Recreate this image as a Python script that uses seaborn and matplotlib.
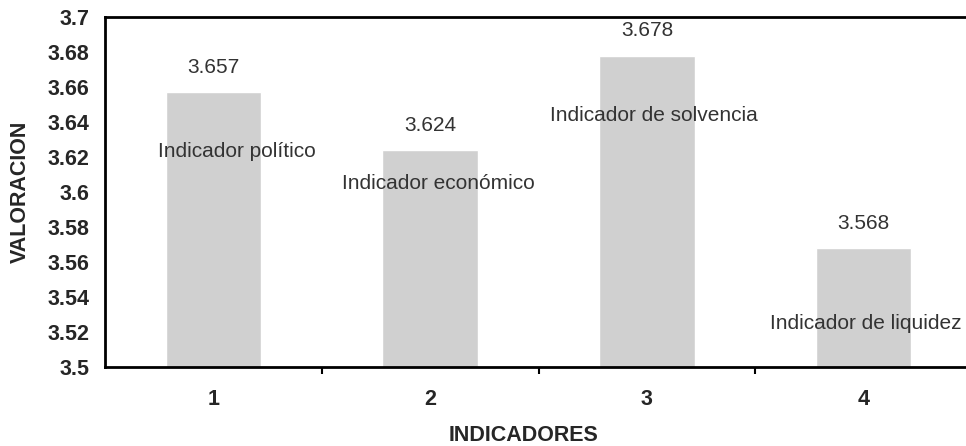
import numpy as np
import pandas as pd
import seaborn as sns
import matplotlib.pyplot as plt
from matplotlib.ticker import FixedLocator

# datos
indicadores = ['1', '2', '3', '4']
valores = [3.657, 3.624, 3.678, 3.568]
nombres = ['Indicador político', 'Indicador económico',
           'Indicador de solvencia', 'Indicador de liquidez']
# posicion de las etiquetas de nombre (offset en x, valor y)
nombre_dx = [0.11, 0.04, 0.03, 0.01]
nombre_y = [3.623, 3.605, 3.644, 3.525]

sns.set_style('white')
plt.rcParams['font.family'] = ['Liberation Sans', 'DejaVu Sans']

df = pd.DataFrame({'INDICADORES': indicadores, 'VALORACION': valores})

fig = plt.figure(figsize=(9.66, 4.46), dpi=100)
ax = fig.add_axes([105 / 966, 79 / 446, 867 / 966, 350 / 446])

sns.barplot(data=df, x='INDICADORES', y='VALORACION', color='#d0d0d0',
            saturation=1, width=0.44, ax=ax)

ax.set_ylim(3.5, 3.7)
ax.set_xlim(-0.5, 3.5)
ticks_y = np.round(np.arange(3.5, 3.7001, 0.02), 2)
ax.set_yticks(ticks_y)
ax.set_yticklabels([('%.2f' % v).rstrip('0').rstrip('.') for v in ticks_y])

for s in ['left', 'bottom', 'top']:
    ax.spines[s].set_color('black')
    ax.spines[s].set_linewidth(2)
ax.spines['right'].set_visible(False)

ax.tick_params(axis='y', which='major', direction='out', length=6, width=1.5,
               color='black', pad=5, labelsize=15.5)
ax.tick_params(axis='x', which='major', length=0, pad=16, labelsize=15.5)
ax.xaxis.set_minor_locator(FixedLocator([0.5, 1.5, 2.5]))
ax.tick_params(axis='x', which='minor', direction='out', length=5, width=1.5,
               color='black', bottom=True)
for lab in ax.get_xticklabels() + ax.get_yticklabels():
    lab.set_fontweight('bold')

ax.set_xlabel('INDICADORES', fontsize=15.5, fontweight='bold')
ax.set_ylabel('VALORACION', fontsize=15.5, fontweight='bold')
ax.xaxis.set_label_coords(0.483, -0.165)
ax.yaxis.set_label_coords(-0.086, 0.5)

for i, v in enumerate(valores):
    ax.annotate('%.3f' % v, (i, v), xytext=(0, 25), textcoords='offset pixels',
                ha='center', va='center', fontsize=15, color='#333333')
    ax.text(i + nombre_dx[i], nombre_y[i], nombres[i], ha='center', va='center',
            fontsize=15, color='#333333')

fig.savefig('out.png', dpi=100)
